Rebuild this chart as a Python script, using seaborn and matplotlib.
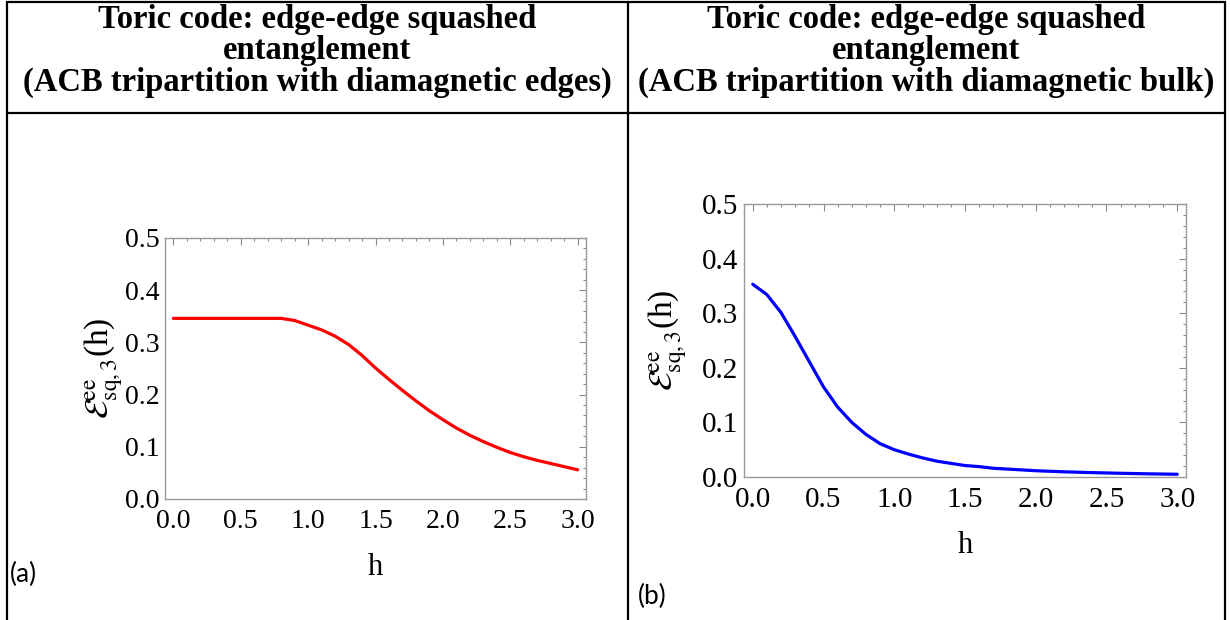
import numpy as np
import pandas as pd
import matplotlib
matplotlib.use("Agg")
import matplotlib.pyplot as plt
import seaborn as sns
from matplotlib.lines import Line2D
from matplotlib.ticker import MultipleLocator, FormatStrFormatter

# ---------------- data ----------------
h_a = [0.0, 0.2, 0.4, 0.6, 0.8, 0.9, 1.0, 1.1, 1.2, 1.3, 1.4, 1.5, 1.6, 1.7,
       1.8, 1.9, 2.0, 2.1, 2.2, 2.3, 2.4, 2.5, 2.6, 2.7, 2.8, 2.9, 3.0]
e_a = [0.346, 0.346, 0.346, 0.346, 0.346, 0.342, 0.333, 0.324, 0.312, 0.296,
       0.275, 0.251, 0.229, 0.208, 0.188, 0.169, 0.152, 0.136, 0.122, 0.110,
       0.099, 0.089, 0.081, 0.074, 0.068, 0.062, 0.056]

h_b = [0.0, 0.1, 0.2, 0.3, 0.4, 0.5, 0.6, 0.7, 0.8, 0.9, 1.0, 1.1, 1.2, 1.3,
       1.4, 1.5, 1.6, 1.7, 1.8, 1.9, 2.0, 2.2, 2.4, 2.6, 2.8, 3.0]
e_b = [0.353, 0.334, 0.301, 0.257, 0.211, 0.165, 0.128, 0.100, 0.078, 0.061,
       0.050, 0.042, 0.035, 0.029, 0.025, 0.021, 0.019, 0.016, 0.0145, 0.013,
       0.0115, 0.0095, 0.008, 0.0068, 0.0058, 0.005]

titles = ["Toric code: edge-edge squashed\nentanglement\n(ACB tripartition with diamagnetic edges)",
          "Toric code: edge-edge squashed\nentanglement\n(ACB tripartition with diamagnetic bulk)"]
panel_labels = ["(a)", "(b)"]
ylabel = r"$\mathcal{E}^{\mathrm{ee}}_{\mathrm{sq,3}}$(h)"
xlabel = "h"

# ---------------- style ----------------
sns.set_style("white")
plt.rcParams['font.family'] = ['Liberation Serif', 'DejaVu Serif']
plt.rcParams['mathtext.fontset'] = 'stix'
plt.rcParams['text.color'] = 'black'
plt.rcParams['axes.labelcolor'] = 'black'
plt.rcParams['xtick.color'] = 'black'
plt.rcParams['ytick.color'] = 'black'

W, H = 1230, 620
fig = plt.figure(figsize=(W / 100, H / 100), dpi=100)

def fx(px):
    return px / W

def fy(py):
    return 1 - py / H

# table grid lines
lw_tab = 1.6
for (x0, y0, x1, y1) in [(7, 2, 1225, 2), (7, 113, 1225, 113),
                         (7, 2, 7, 620), (628, 2, 628, 620), (1225, 2, 1225, 620)]:
    fig.add_artist(Line2D([fx(x0), fx(x1)], [fy(y0), fy(y1)],
                          transform=fig.transFigure, color='black', lw=lw_tab))

# titles
for cx, t in zip([317, 926], titles):
    fig.text(fx(cx), fy(51), t, ha='center', va='center', fontsize=23.5,
             fontweight='bold', linespacing=1.0, color='black')

# axes boxes (px): left, right, top, bottom
boxes = [(165, 586, 238, 499), (744, 1186, 204, 477)]
datasets = [(h_a, e_a, (1, 0, 0)), (h_b, e_b, (0, 0, 1))]
fsz = [20, 21]
ylab_x = [125, 689]
xpad = [14, 13]

for i, ((l, r, t, b), (hx, ey, col)) in enumerate(zip(boxes, datasets)):
    ax = fig.add_axes([fx(l), fy(b), (r - l) / W, (b - t) / H])
    df = pd.DataFrame({"h": hx, "E": ey})
    sns.lineplot(data=df, x="h", y="E", ax=ax, color=col, lw=2.3)
    ax.set_xlim(-0.062, 3.062)
    ax.set_ylim(0, 0.5)
    ax.xaxis.set_major_locator(MultipleLocator(0.5))
    ax.xaxis.set_minor_locator(MultipleLocator(0.1))
    ax.yaxis.set_major_locator(MultipleLocator(0.1))
    ax.yaxis.set_minor_locator(MultipleLocator(0.02))
    ax.xaxis.set_major_formatter(FormatStrFormatter('%.1f'))
    ax.yaxis.set_major_formatter(FormatStrFormatter('%.1f'))
    for s in ax.spines.values():
        s.set_color('#999999')
        s.set_linewidth(1.0)
    ax.tick_params(which='both', direction='in', top=True, right=True,
                   color='#888888', width=0.8, labelcolor='black')
    ax.tick_params(which='major', length=5)
    ax.tick_params(which='minor', length=2.5)
    ax.tick_params(axis='y', which='major', labelsize=fsz[i], pad=4)
    ax.tick_params(axis='x', which='major', labelsize=fsz[i], pad=7)
    ax.set_xlabel(xlabel, fontsize=22, labelpad=xpad[i], color='black')
    ax.set_ylabel(ylabel, fontsize=24, color='black')
    ax.yaxis.set_label_coords((ylab_x[i] - l) / (r - l), 0.5)

# panel labels
fig.text(fx(10), fy(574), panel_labels[0], ha='left', va='center', fontsize=19,
         family=['Lato', 'DejaVu Sans'], color='black')
fig.text(fx(638), fy(596), panel_labels[1], ha='left', va='center', fontsize=19,
         family=['Lato', 'DejaVu Sans'], color='black')

fig.savefig("out.png", dpi=100)
